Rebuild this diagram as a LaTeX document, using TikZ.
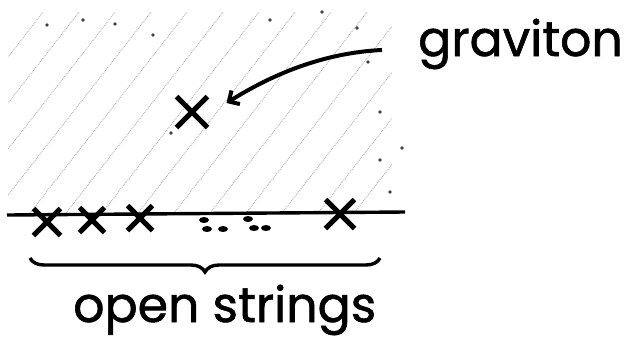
\documentclass[tikz,border=0pt]{standalone}
\usepackage{fontspec}
\newfontfamily\handfont{Poppins}[FakeBold=1.2]
\usetikzlibrary{arrows.meta,decorations.pathreplacing,shapes.misc}

\tikzset{
  xmark/.style={cross out, draw, line width=5pt, minimum size=#1, inner sep=0pt},
  xmark/.default=20pt,
  hatch/.style={gray!60, densely dotted, line width=0.9pt},
  hand/.style={font=\handfont\fontsize{#1}{#1}\selectfont, inner sep=0pt},
}

\begin{document}
\begin{tikzpicture}[x=1pt,y=-1pt]
    \useasboundingbox (0,0) rectangle (639,338);
    \begin{scope}
        \clip (8,12) rectangle (392,212);
        \foreach \x in {-150,-114,...,400}
            \draw[hatch] (\x,213) -- ++(165,-211);
    \end{scope}
    \foreach \p in {(47,25),(83,20),(115,24),(153,35),(270,20),(322,12),(357,28),(368,62),(380,112),(402,148),(380,160),(390,192),(171,133)}
        \fill[gray!50!black] \p circle (1.8pt);

    \draw[line width=3.4pt] (7,215) -- (405,212);
    \node[xmark=22pt] (o1) at (47,222) {};
    \node[xmark] (o2) at (92,220) {};
    \node[xmark] (o3) at (140,218) {};
    \node[xmark=24pt] (o4) at (340,214) {};
    \foreach \p in {(204,220),(207,229),(223,229),(248,219),(254,228),(266,228)}
        \fill \p ellipse (5pt and 3pt);

    \node[xmark=26pt] (g) at (192,112) {};
    \node[hand=49, anchor=base west] (grav) at (418,56) {graviton};
    \draw[line width=4pt, -{Straight Barb[length=8pt,width=16pt]}]
        ([xshift=-36pt,yshift=-6pt]grav.west) .. controls +(-60,3) and +(45,-28) .. ([xshift=19pt,yshift=9pt]g.east);

    \coordinate (bl) at (30,258);
    \coordinate (br) at (380,258);
    \draw[line width=3.4pt, decorate, decoration={brace, mirror, amplitude=14pt}] (bl) -- (br);
    \node[hand=49, anchor=base west] (open) at (73,322) {open strings};
\end{tikzpicture}
\end{document}
